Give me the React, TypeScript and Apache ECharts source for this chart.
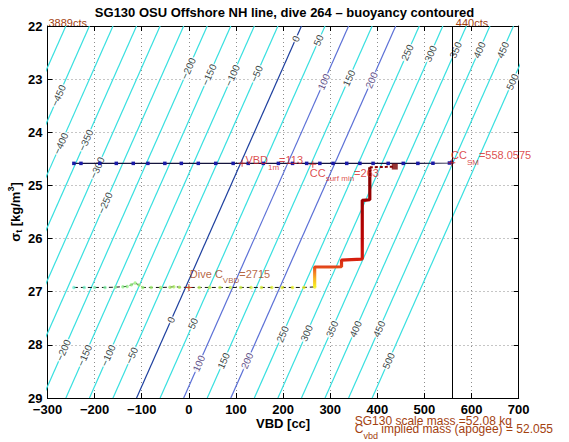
import React, { useEffect, useRef } from 'react';
import * as echarts from 'echarts';

// ---------- texts ----------
const chartTitle = 'SG130 OSU Offshore NH line, dive 264 \u2013 buoyancy contoured';
const xAxisName = 'VBD [cc]';
const countsLeft = '3889cts';
const countsRight = '440cts';

// ---------- axes ----------
const xMin = -300;
const xMax = 700;
const xStep = 100;
const yMin = 22;
const yMax = 29;
const yStep = 1;

// ---------- buoyancy contours ----------
const contourLevels = [-500, -450, -400, -350, -300, -250, -200, -150, -100, -50, 0, 50, 100, 150, 200, 250, 300, 350, 400, 450, 500];
const contourSigmaEnds = [22, 29];
const contourRefSigma = 22;
const contourZeroVbdAtRef = 239; // VBD of the 0 contour at sigma 22
const contourCcPerSigma = 50; // VBD change per kg/m3 along a contour
// [level, sigma] where each contour label sits
const contourLabelSpots: [number, number][] = [
  [-450, 23.31], [-200, 22.8], [-150, 22.92], [-100, 22.93], [-50, 22.9], [0, 22.24], [50, 22.27],
  [100, 23.05], [150, 22.98], [200, 23.02], [250, 22.5], [300, 22.52], [350, 22.45], [400, 22.45],
  [450, 22.45], [500, 23.05],
  [-400, 24.21], [-350, 24.15], [-300, 24.67], [-250, 25.33],
  [-200, 28.1], [-150, 28.2], [-100, 28.2], [-50, 28.2], [0, 27.53], [50, 27.6], [100, 28.35],
  [150, 28.3], [200, 28.3], [250, 27.8], [300, 27.78], [350, 27.7], [400, 27.7], [450, 27.7], [500, 28.3],
];

// ---------- glider data ----------
const surfaceVbd = [-244, -229, -189, -154, -118, -87, -51, -16, 20, 57, 94, 126, 158, 190, 220, 250, 278, 306, 335, 363, 391, 423, 455, 486, 518, 553, 558];
const surfaceSigma = [24.585, 24.585, 24.585, 24.585, 24.585, 24.585, 24.585, 24.585, 24.585, 24.585, 24.585, 24.585, 24.585, 24.585, 24.585, 24.585, 24.585, 24.585, 24.585, 24.585, 24.585, 24.585, 24.585, 24.585, 24.583, 24.578, 24.565];

const descentVbd = [-244, -244, -244, -244, -244, -244, -244, -244, -244, -244];
const descentSigma = [24.585, 24.8, 25.0, 25.3, 25.6, 25.9, 26.2, 26.5, 26.75, 26.92];

const bottomVbd = [-244, -222, -200, -178, -156, -140, -131, -122, -114, -106, -98, -80, -60, -40, -32, -20, 0, 22, 44, 66, 88, 110, 132, 154, 176, 198, 220, 244, 267];
const bottomSigma = [26.92, 26.92, 26.92, 26.92, 26.915, 26.905, 26.9, 26.87, 26.835, 26.875, 26.92, 26.92, 26.92, 26.915, 26.905, 26.915, 26.92, 26.92, 26.92, 26.92, 26.92, 26.92, 26.92, 26.92, 26.92, 26.92, 26.92, 26.92, 26.91];

const climbVbd = [267, 267, 267, 267, 285, 305, 324, 324, 345, 368, 368, 368, 368, 376, 384, 384, 384, 384];
const climbSigma = [26.91, 26.8, 26.65, 26.535, 26.535, 26.535, 26.53, 26.405, 26.395, 26.385, 26.0, 25.6, 25.28, 25.275, 25.27, 25.0, 24.8, 24.66];

const climbTailVbd = [384, 400, 420, 437];
const climbTailSigma = [24.66, 24.655, 24.65, 24.645];

// ---------- annotations ----------
const vbd1m = 113;
const vbd1mSigma = 24.585;
const ccSurfMin = 263;
const ccSurfMinSigma = 24.6;
const ccSM = 558.0575;
const ccSMSigma = 24.575;
const diveCvbd = 2715;
const diveCvbdVbd = 0;
const diveCvbdSigma = 26.92;
const scaleMass = '52.08';
const impliedMass = '52.055';

const FONT = "'Liberation Sans', Arial, Helvetica, sans-serif";
const RED = '#d42222';
const BROWN = '#a3410f';
const CYAN = '#38e0e0';

const minus = (v: number | string) => String(v).replace('-', '\u2212');
const contourVbd = (level: number, sigma: number) =>
  level + contourZeroVbdAtRef - contourCcPerSigma * (sigma - contourRefSigma);
const contourColor = (level: number) =>
  level === 0 ? '#1d3f9e' : level === 100 || level === 200 ? '#5b70d6' : CYAN;
const zip = (a: number[], b: number[]) => a.map((v, i) => [v, b[i]]);

const PLUS = 'path://M0,3L7,3L7,4L0,4Z M3,0L4,0L4,7L3,7Z';

function subText(color: string, subH: number) {
  return {
    m: { fontFamily: FONT, fontSize: 11, color, height: 12, lineHeight: 12, verticalAlign: 'top' as const },
    s: { fontFamily: FONT, fontSize: 8, color, height: subH, lineHeight: subH, verticalAlign: 'top' as const },
  };
}

export default function App() {
  const ref = useRef<HTMLDivElement>(null);
  useEffect(() => {
    const el = ref.current;
    if (!el) return;
    const chart = echarts.init(el, undefined, { renderer: 'svg' });

    const series: any[] = [];

    contourLevels.forEach((level) => {
      series.push({
        type: 'line',
        silent: true,
        symbol: 'none',
        z: 1,
        clip: true,
        lineStyle: { color: contourColor(level), width: 1.2 },
        data: contourSigmaEnds.map((s) => [contourVbd(level, s), s]),
      });
    });

    series.push({
      type: 'scatter',
      silent: true,
      z: 3,
      symbolSize: 1,
      itemStyle: { color: 'rgba(0,0,0,0)' },
      data: contourLabelSpots.map(([level, s]) => ({
        value: [contourVbd(level, s), s],
        level,
        label: { color: level === 100 || level === 200 ? '#40286a' : '#111' },
      })),
      label: {
        show: true,
        position: 'inside',
        rotate: 66,
        fontFamily: FONT,
        fontSize: 10,
        backgroundColor: '#ffffff',
        padding: [0, 1],
        formatter: (p: any) => minus(p.data.level),
      },
    });

    // surface line with blue points and CC_SM vertical
    series.push({
      type: 'line',
      z: 4,
      symbol: 'rect',
      symbolSize: 3.5,
      showAllSymbol: true,
      itemStyle: { color: '#1b1ba8' },
      lineStyle: { color: '#14143c', width: 1.1 },
      data: zip(surfaceVbd, surfaceSigma),
      markLine: {
        silent: true,
        symbol: 'none',
        label: { show: false },
        lineStyle: { color: '#000', width: 1, type: 'solid' },
        data: [{ xAxis: ccSM }],
      },
    });

    // descent (thick, coloured)
    series.push({
      type: 'line',
      z: 5,
      symbol: 'none',
      lineStyle: {
        width: 3.2,
        color: new echarts.graphic.LinearGradient(0, 0, 0, 1, [
          { offset: 0, color: '#00007a' },
          { offset: 0.15, color: '#0000b8' },
          { offset: 0.5, color: '#1020e8' },
          { offset: 0.75, color: '#2050ff' },
          { offset: 0.88, color: '#30a0ff' },
          { offset: 1, color: '#50f4ff' },
        ]),
      },
      data: zip(descentVbd, descentSigma),
    });

    // bottom dashed line
    series.push({
      type: 'line',
      z: 4,
      symbol: 'none',
      lineStyle: { color: '#111', width: 1, type: [4, 3] },
      data: zip(bottomVbd, bottomSigma),
    });
    const bottomDotsIndex = series.length;
    series.push({
      type: 'scatter',
      z: 5,
      symbol: 'circle',
      symbolSize: 3.5,
      data: zip(bottomVbd, bottomSigma),
    });

    // climb (thick, coloured)
    series.push({
      type: 'line',
      z: 5,
      symbol: 'none',
      lineStyle: {
        width: 3.2,
        color: new echarts.graphic.LinearGradient(0, 0, 0, 1, [
          { offset: 0, color: '#7a0000' },
          { offset: 0.27, color: '#9c0000' },
          { offset: 0.6, color: '#bb0404' },
          { offset: 0.76, color: '#d41a0c' },
          { offset: 0.83, color: '#e2441a' },
          { offset: 0.87, color: '#f07422' },
          { offset: 0.93, color: '#f8b424' },
          { offset: 1, color: '#f8f022' },
        ]),
      },
      data: zip(climbVbd, climbSigma),
    });
    series.push({
      type: 'line',
      z: 5,
      symbol: 'none',
      lineStyle: { color: '#8a0000', width: 2, type: [3, 2] },
      data: zip(climbTailVbd, climbTailSigma),
    });
    series.push({
      type: 'scatter',
      z: 6,
      symbol: 'rect',
      symbolSize: 6,
      itemStyle: { color: '#7a0000' },
      data: [[climbTailVbd[climbTailVbd.length - 1], climbTailSigma[climbTailSigma.length - 1]]],
    });

    // annotation markers with labels
    series.push({
      type: 'scatter',
      z: 7,
      symbol: PLUS,
      symbolSize: 7,
      itemStyle: { color: RED },
      data: [
        {
          value: [vbd1m, vbd1mSigma],
          label: {
            show: true,
            position: [6.8, -5.7],
            formatter: `{m|VBD}{s|1m}{m|=${vbd1m}}`,
            rich: subText(RED, 27.5),
          },
        },
        {
          value: [ccSurfMin, ccSurfMinSigma],
          label: {
            show: true,
            position: [0.5, 6],
            formatter: `{m|CC}{s|surf min}{m|=${ccSurfMin}}`,
            rich: subText(RED, 24),
          },
        },
        {
          value: [ccSM, ccSMSigma],
          label: {
            show: true,
            position: [2.7, -10],
            formatter: `{m|CC}{s|SM}{m|=${ccSM}}`,
            rich: subText(RED, 26),
          },
        },
        {
          value: [diveCvbdVbd, diveCvbdSigma],
          label: {
            show: true,
            position: [4.5, -15.6],
            formatter: `{m|Dive C}{s|VBD}{m|=${diveCvbd}}`,
            rich: subText(BROWN, 24.6),
          },
        },
      ],
    });

    const tickLabel = {
      color: '#000',
      fontFamily: FONT,
      fontSize: 13,
      fontWeight: 'bold' as const,
    };
    const axisLine = { show: true, onZero: false, lineStyle: { color: '#000', width: 1 } };
    const axisTick = { show: true, inside: true, length: 5, lineStyle: { color: '#000', width: 1 } };
    const splitLine = { show: true, lineStyle: { color: '#8c8c8c', width: 1, type: [1, 3] as any } };

    const option: any = {
      animation: false,
      backgroundColor: '#ffffff',
      title: {
        text: chartTitle,
        left: 'center',
        top: 1,
        textStyle: { fontFamily: FONT, fontSize: 13, fontWeight: 'bold', color: '#000' },
      },
      grid: {
        left: 47.5,
        right: 50.3,
        top: 26,
        bottom: 44,
        containLabel: false,
        outerBoundsMode: 'none',
      },
      xAxis: [
        {
          type: 'value',
          min: xMin,
          max: xMax,
          interval: xStep,
          position: 'bottom',
          axisLine,
          axisTick,
          splitLine,
          axisLabel: { ...tickLabel, margin: 5, formatter: (v: number) => minus(v) },
          name: xAxisName,
          nameLocation: 'middle',
          nameGap: 19,
          nameMoveOverlap: false,
          nameTextStyle: tickLabel,
        },
        {
          type: 'value',
          min: xMin,
          max: xMax,
          interval: xStep,
          position: 'top',
          axisLine,
          axisTick,
          splitLine: { show: false },
          axisLabel: { show: false },
        },
      ],
      yAxis: [
        {
          type: 'value',
          min: yMin,
          max: yMax,
          interval: yStep,
          inverse: true,
          position: 'left',
          axisLine,
          axisTick,
          splitLine,
          axisLabel: { ...tickLabel, margin: 5 },
          name: '{a|\u03c3}{b|t}{a| [kg/m}{c|3}{a|]}',
          nameLocation: 'middle',
          nameGap: 15.5,
          nameMoveOverlap: false,
          nameTextStyle: {
            rich: {
              a: { ...tickLabel, height: 18, lineHeight: 18, verticalAlign: 'top' },
              b: { ...tickLabel, fontSize: 9, height: 26, lineHeight: 26, verticalAlign: 'top' },
              c: { ...tickLabel, fontSize: 9, height: 9, lineHeight: 9, verticalAlign: 'top' },
            },
          },
        },
        {
          type: 'value',
          min: yMin,
          max: yMax,
          interval: yStep,
          inverse: true,
          position: 'right',
          axisLine,
          axisTick,
          splitLine: { show: false },
          axisLabel: { show: false },
        },
      ],
      visualMap: [
        {
          type: 'continuous',
          show: false,
          seriesIndex: bottomDotsIndex,
          dimension: 0,
          min: bottomVbd[0],
          max: bottomVbd[bottomVbd.length - 1],
          inRange: { color: ['#70f0d8', '#98f07c', '#b8ee5c', '#d4f040', '#f4f020'] },
        },
      ],
      series,
    };

    chart.setOption(option);

    const px = (x: number, y: number) => chart.convertToPixel({ gridIndex: 0 }, [x, y]) as number[];
    const topLeft = px(xMin, yMin);
    const smTop = px(ccSM, yMin);
    const massAnchor = px(352, yMax);

    chart.setOption({
      graphic: [
        {
          type: 'text',
          x: topLeft[0] + 1,
          y: topLeft[1] - 3,
          style: { text: countsLeft, fill: BROWN, font: `11px ${FONT}`, align: 'left', verticalAlign: 'middle' },
        },
        {
          type: 'text',
          x: smTop[0] + 4,
          y: smTop[1] - 3,
          style: { text: countsRight, fill: BROWN, font: `11px ${FONT}`, align: 'left', verticalAlign: 'middle' },
        },
        {
          type: 'text',
          x: massAnchor[0],
          y: massAnchor[1] + 23,
          style: {
            text: `SG130 scale mass =${scaleMass} kg`,
            fill: BROWN,
            font: `12px ${FONT}`,
            align: 'left',
            verticalAlign: 'middle',
          },
        },
        {
          type: 'text',
          x: massAnchor[0],
          y: massAnchor[1] + 23.5,
          style: {
            text: `{m|C}{s|vbd}{m| implied mass (apogee) = ${impliedMass}}`,
            align: 'left',
            verticalAlign: 'top',
            rich: {
              m: { fontFamily: FONT, fontSize: 12, fill: BROWN, color: BROWN, height: 14, lineHeight: 14, verticalAlign: 'top' },
              s: { fontFamily: FONT, fontSize: 9, fill: BROWN, color: BROWN, height: 28, lineHeight: 28, verticalAlign: 'top' },
            },
          },
        },
      ],
    });

    return () => chart.dispose();
  }, []);

  return <div ref={ref} style={{ position: 'absolute', left: 0, top: 0, width: 569, height: 442 }} />;
}
